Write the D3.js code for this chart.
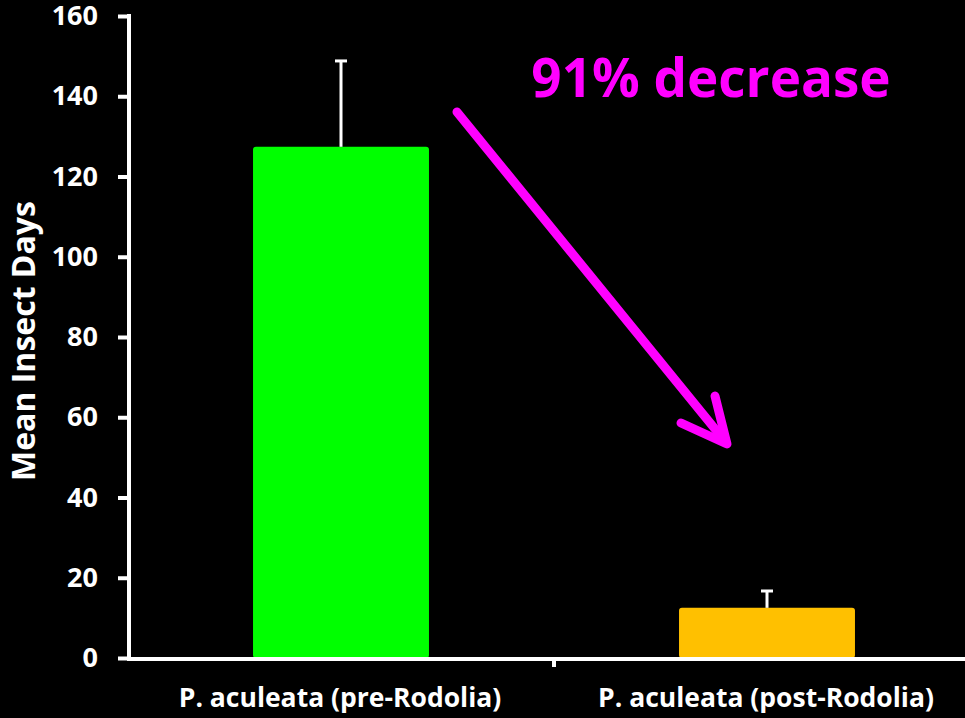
<!DOCTYPE html>
<html lang="en">
<head>
    <meta charset="UTF-8">
    <title>Mean Insect Days</title>
    <script src="https://d3js.org/d3.v7.min.js"></script>
    <style>
        body { margin: 0; background: #000; }
        text { font-family: "Open Sans", "Liberation Sans", sans-serif; font-weight: bold; fill: #fff; }
    </style>
</head>
<body>
    <div id="chart"></div>
    <script>
        var categories = ['P. aculeata (pre-Rodolia)', 'P. aculeata (post-Rodolia)'];
        var means = [127.4, 12.5];
        var errors = [21.4, 4.2];
        var barColors = ['#00ff00', '#ffc000'];
        var yTicks = [0, 20, 40, 60, 80, 100, 120, 140, 160];

        var width = 965,
            height = 718;

        var svg = d3.select('#chart')
            .append('svg')
            .attr('width', width)
            .attr('height', height)
            .style('background', '#000');

        var x = d3.scaleBand()
            .domain(categories)
            .range([128, 980])
            .paddingInner(0)
            .paddingOuter(0);

        var y = d3.scaleLinear()
            .domain([0, 160])
            .range([658, 16]);

        var bw = x.bandwidth() * 0.413;

        // bars
        svg.selectAll('.bar')
            .data(categories)
            .enter()
            .append('rect')
            .attr('x', (d) => x(d) + x.bandwidth() / 2 - bw / 2)
            .attr('y', (d, i) => y(means[i]))
            .attr('width', bw)
            .attr('height', (d, i) => y(0) - y(means[i]))
            .attr('rx', 3)
            .attr('fill', (d, i) => barColors[i]);

        // error bars (upper only)
        var err = svg.append('g');
        categories.forEach((d, i) => {
            var cx = x(d) + x.bandwidth() / 2;
            err.append('line')
                .attr('x1', cx).attr('x2', cx)
                .attr('y1', y(means[i])).attr('y2', y(means[i] + errors[i]))
                .attr('stroke', '#fff').attr('stroke-width', 3);
            err.append('line')
                .attr('x1', cx - 6).attr('x2', cx + 6)
                .attr('y1', y(means[i] + errors[i])).attr('y2', y(means[i] + errors[i]))
                .attr('stroke', '#fff').attr('stroke-width', 3);
        });

        // y axis
        var yAxis = svg.append('g')
            .attr('transform', 'translate(129,0)')
            .call(d3.axisLeft(y).tickValues(yTicks).tickSize(11).tickPadding(20));
        yAxis.select('.domain').attr('stroke', '#fff').attr('stroke-width', 4)
            .attr('d', 'M0,' + (y(160) - 2) + 'V' + (y(0) + 2));
        yAxis.selectAll('.tick line').attr('stroke', '#fff').attr('stroke-width', 4);
        yAxis.selectAll('.tick text').style('font-size', '27px').attr('fill', '#fff');

        // x axis
        var xAxis = svg.append('g')
            .attr('transform', 'translate(0,659)');
        xAxis.append('line')
            .attr('x1', 127).attr('x2', width)
            .attr('y1', 0).attr('y2', 0)
            .attr('stroke', '#fff').attr('stroke-width', 4);
        xAxis.selectAll('.sep')
            .data(categories.slice(1))
            .enter()
            .append('line')
            .attr('x1', (d) => x(d)).attr('x2', (d) => x(d))
            .attr('y1', 0).attr('y2', 8)
            .attr('stroke', '#fff').attr('stroke-width', 4);
        xAxis.selectAll('.lbl')
            .data(categories)
            .enter()
            .append('text')
            .attr('x', (d) => x(d) + x.bandwidth() / 2 - 1)
            .attr('y', 48)
            .attr('text-anchor', 'middle')
            .style('font-size', '26.5px')
            .text((d) => d);

        // y title
        svg.append('text')
            .attr('transform', 'translate(35,341) rotate(-90)')
            .attr('text-anchor', 'middle')
            .style('font-size', '32px')
            .text('Mean Insect Days');

        // annotation
        svg.append('text')
            .attr('x', 711)
            .attr('y', 97)
            .attr('text-anchor', 'middle')
            .style('font-size', '53px')
            .style('fill', '#ff00ff')
            .text('91% decrease');

        var arrow = svg.append('g')
            .attr('stroke', '#ff00ff')
            .attr('stroke-width', 9)
            .attr('stroke-linecap', 'round')
            .attr('stroke-linejoin', 'round')
            .attr('fill', 'none');
        arrow.append('line')
            .attr('x1', 457).attr('y1', 112)
            .attr('x2', 724).attr('y2', 440);
        arrow.append('path')
            .attr('d', 'M715,396 L727,444 L681,423');
    </script>
</body>
</html>
